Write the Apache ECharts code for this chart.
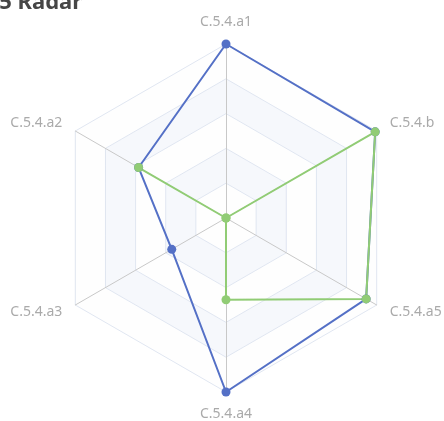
<!DOCTYPE html>
<html lang="en">
<head>
    <meta charset="UTF-8">
    <title>Radar</title>
    <style type="text/css">
        html, body { margin: 0; padding: 0; }
        #radar { width: 444px; height: 421px; }
    </style>
    <script src="https://cdn.jsdelivr.net/npm/echarts@6/dist/echarts.min.js"></script>
</head>
<body>
<div id="radar"></div>
<script type="application/javascript">
    var indicatorNames = ['C.5.4.a1', 'C.5.4.a2', 'C.5.4.a3', 'C.5.4.a4', 'C.5.4.a5', 'C.5.4.b'];
    var indicatorMax = [100, 100, 100, 100, 100, 100];
    var blueValues = [100, 58, 36, 100, 93, 99];
    var greenValues = [0, 58, 0, 47, 93, 99];

    var chart = echarts.init(document.getElementById('radar'));
    var indicators = [];
    for (var i = 0; i < indicatorNames.length; i++) {
        indicators.push({ name: indicatorNames[i], max: indicatorMax[i], min: 0 });
    }

    chart.setOption({
        textStyle: { fontFamily: 'Noto Sans' },
        color: ['#5470c6', '#91cc75'],
        title: {
            text: 'C.5 Radar',
            left: -26,
            top: -13,
            textStyle: { fontSize: 22, fontWeight: 'bold', color: '#464646', fontFamily: 'Noto Sans' }
        },
        radar: {
            center: [226, 218],
            radius: 174,
            indicator: indicators,
            axisName: { color: '#aaa', fontSize: 14, fontFamily: 'Noto Sans' },
            axisLine: { lineStyle: { color: '#c8c8c8' } },
            splitLine: { lineStyle: { color: '#e0e6f1' } },
            splitArea: {
                areaStyle: { color: ['rgba(250,250,250,0.2)', 'rgba(210,219,238,0.2)'] }
            }
        },
        series: [{
            type: 'radar',
            symbolSize: 9,
            lineStyle: { width: 2 },
            data: [
                { name: 'blue', value: blueValues },
                { name: 'green', value: greenValues }
            ]
        }]
    });
</script>
</body>
</html>
